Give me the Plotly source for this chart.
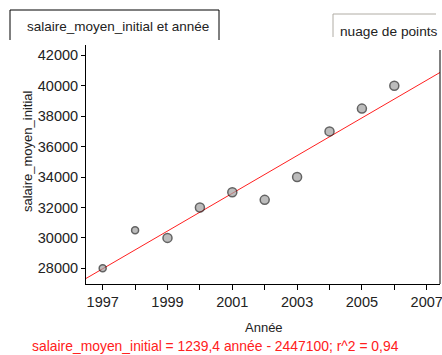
import numpy as np
import plotly.graph_objects as go

annees = [1997, 1998, 1999, 2000, 2001, 2002, 2003, 2004, 2005, 2006]
salaire_moyen_initial = [28000, 30500, 30000, 32000, 33000, 32500, 34000, 37000, 38500, 40000]
x_ticks = [1997, 1999, 2001, 2003, 2005, 2007]
y_ticks = [28000, 30000, 32000, 34000, 36000, 38000, 40000, 42000]

W, H = 442, 355
L, R, T, B = 86, 440, 45, 284

def px(x):
    return (x - L) / (R - L)

def py(y):
    return (B - y) / (B - T)

x = np.array(annees, dtype=float)
y = np.array(salaire_moyen_initial, dtype=float)
slope, intercept = np.polyfit(x, y, 1)
r2 = np.corrcoef(x, y)[0, 1] ** 2
xr = [1996.485, 2007.41]
yr = [26970, 42680]
xl = np.array(xr)

font = "Liberation Sans, Arial, sans-serif"
fig = go.Figure()
fig.add_trace(go.Scatter(x=xl, y=slope * xl + intercept, mode="lines",
                         line=dict(color="#ff2020", width=1), hoverinfo="skip"))
sizes = [7, 7] + [9] * (len(annees) - 2)
fig.add_trace(go.Scatter(x=annees, y=salaire_moyen_initial, mode="markers",
                         marker=dict(size=sizes, color="#a0a0a0",
                                     line=dict(color="#222222", width=1.5))))

fig.update_layout(
    width=W, height=H, showlegend=False,
    paper_bgcolor="white", plot_bgcolor="white",
    margin=dict(l=L, r=W - R, t=T, b=H - B, autoexpand=False),
    font=dict(family=font, size=13, color="#222222"),
    xaxis=dict(range=xr, tickmode="array", tickvals=list(range(1997, 2008)),
               ticktext=[str(v) if v in x_ticks else "" for v in range(1997, 2008)],
               showgrid=False, zeroline=False, showline=True, linecolor="black",
               linewidth=1, ticks="outside", ticklen=5, tickcolor="black",
               automargin=False, tickfont=dict(size=14.5), ticklabeloverflow="allow"),
    yaxis=dict(range=yr, tickmode="array", tickvals=y_ticks,
               ticktext=[str(v) for v in y_ticks],
               showgrid=False, zeroline=False, showline=True, linecolor="black",
               linewidth=1, ticks="outside", ticklen=4, tickcolor="black",
               automargin=False, tickfont=dict(size=14.5), ticklabeloverflow="allow"),
)

def note(xp, yp, text, size=12, color="#222222", angle=0):
    fig.add_annotation(xref="paper", yref="paper", x=px(xp), y=py(yp), text=text,
                       xanchor="center", yanchor="middle", showarrow=False,
                       textangle=angle, font=dict(size=size, color=color))

# right border
fig.add_shape(type="line", xref="paper", yref="paper", x0=1, x1=1, y0=0, y1=py(50),
              line=dict(color="black", width=1))
# left-top tab box
fig.add_shape(type="path", xref="paper", yref="paper",
              path=f"M {px(10)},{py(40)} L {px(10)},{py(10)} L {px(219)},{py(10)} L {px(219)},{py(40)}",
              line=dict(color="black", width=1))
note(118, 27, "salaire_moyen_initial et année", size=13.5)
# right tab box
fig.add_shape(type="path", xref="paper", yref="paper",
              path=f"M {px(333)},{py(37)} L {px(333)},{py(14)} L {px(436)},{py(14)}",
              line=dict(color="#b0aca4", width=1))
note(389, 32, "nuage de points", size=13.7)
# axis titles
note(264, 327, "Année", size=13)
note(27, 151, "salaire_moyen_initial", size=13, angle=-90)
eq = (f"salaire_moyen_initial = {slope:.1f}".replace(".", ",")
      + f" année - {round(-intercept, -2):.0f}; r^2 = " + f"{r2:.2f}".replace(".", ","))
note(215, 346, eq, size=13.9, color="#ff2020")

fig.write_html("out.html", config={"displayModeBar": False},
               post_script="document.body.style.margin='0';document.body.style.overflow='hidden';")
